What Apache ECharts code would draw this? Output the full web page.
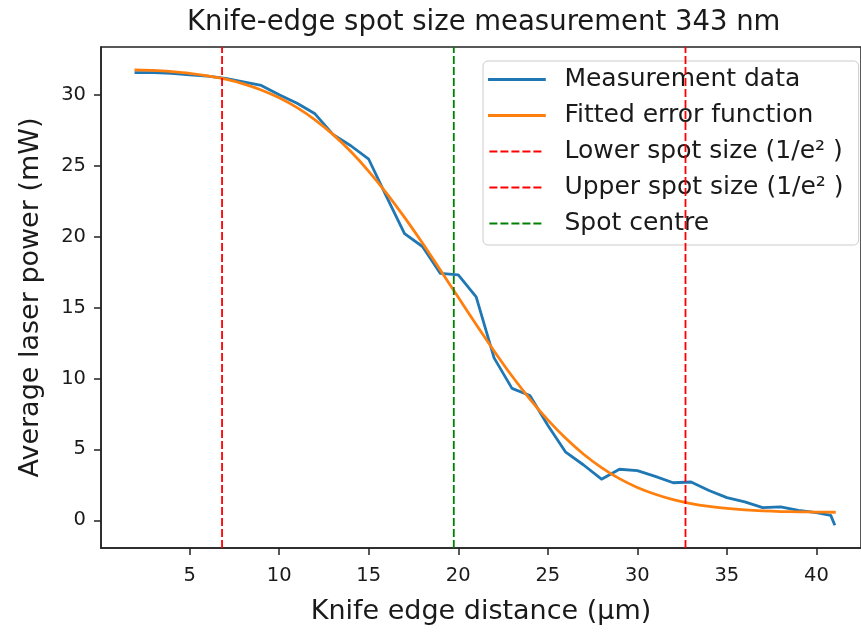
<!DOCTYPE html>
<html>
<head>
<meta charset="utf-8">
<title>Knife-edge spot size measurement 343 nm</title>
<script src="https://cdn.jsdelivr.net/npm/echarts@6/dist/echarts.min.js"></script>
<style>
  html, body { margin: 0; padding: 0; background: #ffffff; }
  #chart { width: 861px; height: 633px; }
</style>
</head>
<body>
<div id="chart"></div>
<script>
// Knife position (µm) and measured average power (mW)
const measX = [2, 3, 4, 5, 6, 7, 8, 9, 10, 11, 12, 13, 14, 15, 16, 17, 18, 19, 20, 21,
               22, 23, 24, 25, 26, 27, 28, 29, 30, 31, 32, 33, 34, 35, 36, 37, 38, 39, 40, 40.8, 41];
const measY = [31.55, 31.55, 31.5, 31.4, 31.3, 31.15, 30.9, 30.65, 30.0, 29.4, 28.65, 27.2, 26.4, 25.45, 22.8, 20.2, 19.3, 17.4, 17.3, 15.75,
               11.45, 9.3, 8.8, 6.7, 4.8, 3.9, 2.9, 3.6, 3.5, 3.1, 2.65, 2.7, 2.1, 1.6, 1.3, 0.9, 0.95, 0.7, 0.55, 0.35, -0.25];

// Fitted error-function curve
const fitX = [2, 3, 4, 5, 6, 7, 8, 9, 10, 11, 12, 13, 14, 15, 16, 17, 18, 19, 20, 21,
              22, 23, 24, 25, 26, 27, 28, 29, 30, 31, 32, 33, 34, 35, 36, 37, 38, 39, 40, 41];
const fitY = [31.75, 31.71, 31.62, 31.5, 31.32, 31.09, 30.76, 30.33, 29.78, 29.09, 28.23, 27.2, 25.99, 24.6, 23.05, 21.35, 19.54, 17.64, 15.72, 13.8,
              11.94, 10.17, 8.55, 7.08, 5.78, 4.66, 3.72, 2.94, 2.32, 1.84, 1.46, 1.18, 0.98, 0.84, 0.74, 0.67, 0.62, 0.6, 0.58, 0.57];

// Spot edges (1/e²) and centre, µm
const lowerEdge = 6.81;
const upperEdge = 32.69;
const spotCentre = 19.75;

// Axis ranges and tick values
const xRange = [0.05, 42.49];
const yRange = [-1.95, 33.36];
const xTicks = [5, 10, 15, 20, 25, 30, 35, 40];
const yTicks = [0, 5, 10, 15, 20, 25, 30];

const FONT = 'DejaVu Sans';
const INK = '#1a1a1a';
const SPINE = '#222222';
const DASH = [8, 3];

const pairs = (xs, ys) => xs.map((x, i) => [x, ys[i]]);
const vline = (x) => [[x, yRange[0]], [x, yRange[1]]];

const chart = echarts.init(document.getElementById('chart'), null, { renderer: 'canvas' });

chart.setOption({
  backgroundColor: '#ffffff',
  animation: false,
  textStyle: { fontFamily: FONT, color: INK },
  title: {
    text: 'Knife-edge spot size measurement 343 nm',
    left: 187,
    top: 9,
    padding: 0,
    textStyle: { fontFamily: FONT, fontSize: 27.5, fontWeight: 'normal', color: INK }
  },
  grid: {
    left: 101,
    top: 47,
    width: 761,
    height: 501,
    show: true,
    borderColor: SPINE,
    borderWidth: 1.5,
    containLabel: false
  },
  legend: {
    orient: 'vertical',
    left: 483,
    top: 61,
    padding: [6, 15, 9, 5],
    itemWidth: 55,
    itemHeight: 14,
    itemGap: 11,
    backgroundColor: 'rgba(255,255,255,0.8)',
    borderColor: '#cccccc',
    borderWidth: 1,
    borderRadius: 5,
    // line-only keys, no marker dot
    itemStyle: { color: 'rgba(0,0,0,0)', borderWidth: 0 },
    textStyle: {
      fontFamily: FONT,
      fontSize: 25,
      color: INK,
      padding: [0, 0, 0, 15]
    },
    data: [
      { name: 'Measurement data', lineStyle: { width: 2.8 } },
      { name: 'Fitted error function', lineStyle: { width: 2.8 } },
      { name: 'Lower spot size (1/e² )', lineStyle: { width: 1.8, type: DASH } },
      { name: 'Upper spot size (1/e² )', lineStyle: { width: 1.8, type: DASH } },
      { name: 'Spot centre', lineStyle: { width: 1.8, type: DASH } }
    ]
  },
  xAxis: {
    type: 'value',
    min: xRange[0],
    max: xRange[1],
    name: 'Knife edge distance (µm)',
    nameLocation: 'middle',
    nameGap: 50,
    nameTextStyle: { fontFamily: FONT, fontSize: 27, color: INK },
    splitLine: { show: false },
    axisLine: { show: true, onZero: false, lineStyle: { color: SPINE, width: 1.5 } },
    axisTick: {
      show: true, inside: false, length: 7,
      customValues: xTicks,
      lineStyle: { color: SPINE, width: 1.5 }
    },
    axisLabel: {
      show: true, margin: 18,
      customValues: xTicks,
      fontFamily: FONT, fontSize: 19.5, color: INK
    }
  },
  yAxis: {
    type: 'value',
    min: yRange[0],
    max: yRange[1],
    name: 'Average laser power (mW)',
    nameLocation: 'middle',
    nameGap: 57,
    nameRotate: 90,
    nameTextStyle: { fontFamily: FONT, fontSize: 27, color: INK },
    splitLine: { show: false },
    axisLine: { show: true, onZero: false, lineStyle: { color: SPINE, width: 1.5 } },
    axisTick: {
      show: true, inside: false, length: 7,
      customValues: yTicks,
      lineStyle: { color: SPINE, width: 1.5 }
    },
    axisLabel: {
      show: true, margin: 15,
      customValues: yTicks,
      fontFamily: FONT, fontSize: 19.5, color: INK
    }
  },
  series: [
    {
      name: 'Measurement data',
      type: 'line',
      data: pairs(measX, measY),
      symbol: 'none',
      lineStyle: { color: '#1f77b4', width: 2.8, cap: 'square', join: 'round' },
      itemStyle: { color: '#1f77b4' },
      z: 2
    },
    {
      name: 'Fitted error function',
      type: 'line',
      data: pairs(fitX, fitY),
      symbol: 'none',
      smooth: 0.2,
      lineStyle: { color: '#ff7f0e', width: 2.8, cap: 'square', join: 'round' },
      itemStyle: { color: '#ff7f0e' },
      z: 3
    },
    {
      name: 'Lower spot size (1/e² )',
      type: 'line',
      data: vline(lowerEdge),
      symbol: 'none',
      lineStyle: { color: '#ff0000', width: 1.8, type: DASH },
      itemStyle: { color: '#ff0000' },
      z: 4
    },
    {
      name: 'Upper spot size (1/e² )',
      type: 'line',
      data: vline(upperEdge),
      symbol: 'none',
      lineStyle: { color: '#ff0000', width: 1.8, type: DASH },
      itemStyle: { color: '#ff0000' },
      z: 4
    },
    {
      name: 'Spot centre',
      type: 'line',
      data: vline(spotCentre),
      symbol: 'none',
      lineStyle: { color: '#008000', width: 1.8, type: DASH },
      itemStyle: { color: '#008000' },
      z: 4
    }
  ]
});
</script>
</body>
</html>
